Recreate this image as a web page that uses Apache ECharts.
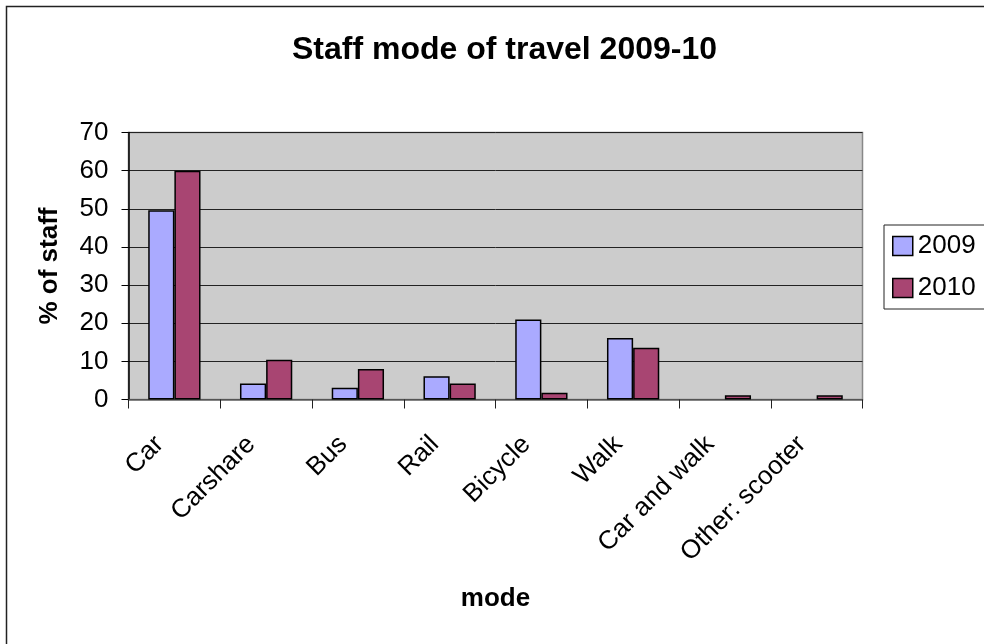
<!DOCTYPE html>
<html>
<head>
<meta charset="utf-8">
<script src="https://cdn.jsdelivr.net/npm/echarts@6/dist/echarts.min.js"></script>
<style>
html,body{margin:0;padding:0;background:#fff;}
#chart{width:984px;height:644px;}
</style>
</head>
<body>
<div id="chart"></div>
<script>
const categories = ['Car', 'Carshare', 'Bus', 'Rail', 'Bicycle', 'Walk', 'Car and walk', 'Other: scooter'];
const values2009 = [49.6, 4.2, 3.1, 6.1, 21.0, 16.1, null, null];
const values2010 = [60.0, 10.4, 8.0, 4.2, 1.8, 13.6, 1.1, 1.1];
const yTicks = { min: 0, max: 70, interval: 10 };

const FONT = '"Liberation Sans", Arial, Helvetica, sans-serif';
const chart = echarts.init(document.getElementById('chart'));
chart.setOption({
  animation: false,
  backgroundColor: '#ffffff',
  textStyle: { fontFamily: FONT },
  graphic: [{
    type: 'rect',
    shape: { x: 6.5, y: 6.5, width: 1100, height: 800 },
    style: { fill: 'none', stroke: '#222', lineWidth: 1.5 },
    silent: true
  }],
  title: {
    text: 'Staff mode of travel 2009-10',
    left: 287,
    top: 29,
    textStyle: { fontFamily: FONT, fontSize: 32, fontWeight: 'bold', color: '#000' }
  },
  legend: {
    orient: 'vertical',
    left: 884,
    top: 225,
    padding: [8, 20, 8, 8],
    itemGap: 16,
    itemWidth: 20,
    itemHeight: 19,
    icon: 'rect',
    borderColor: '#222',
    borderWidth: 1,
    itemStyle: { borderColor: '#000', borderWidth: 1.5 },
    textStyle: { fontFamily: FONT, fontSize: 26, color: '#000' },
    data: ['2009', '2010']
  },
  grid: {
    left: 128.5,
    right: 121.5,
    top: 132.5,
    bottom: 244.5,
    show: true,
    backgroundColor: '#cccccc',
    borderColor: '#888',
    borderWidth: 1.5
  },
  xAxis: {
    type: 'category',
    data: categories,
    name: 'mode',
    nameLocation: 'middle',
    nameGap: 186,
    nameTextStyle: { fontFamily: FONT, fontSize: 26, fontWeight: 'bold', color: '#000' },
    axisLine: { lineStyle: { color: '#666', width: 1.5 } },
    axisTick: { show: true, length: 9, lineStyle: { color: '#222', width: 1 } },
    axisLabel: { rotate: 45, margin: 26, padding: [0, 21, 0, 0], fontFamily: FONT, fontSize: 26, color: '#000', interval: 0 },
    splitLine: { show: false }
  },
  yAxis: {
    type: 'value',
    min: yTicks.min,
    max: yTicks.max,
    interval: yTicks.interval,
    name: '% of staff',
    nameLocation: 'middle',
    nameGap: 66,
    nameTextStyle: { fontFamily: FONT, fontSize: 26, fontWeight: 'bold', color: '#000' },
    axisLine: { show: true, lineStyle: { color: '#000', width: 1.5 } },
    axisTick: { show: true, length: 7, lineStyle: { color: '#000', width: 1 } },
    axisLabel: { margin: 20, fontFamily: FONT, fontSize: 26, color: '#000' },
    splitLine: { show: true, lineStyle: { color: '#222', width: 1 } }
  },
  series: [{
    name: '2009',
    type: 'bar',
    data: values2009,
    barGap: '0%',
    barCategoryGap: '43%',
    itemStyle: { color: '#aaaaff', borderColor: '#000', borderWidth: 1.5 }
  }, {
    name: '2010',
    type: 'bar',
    data: values2010,
    barGap: '0%',
    barCategoryGap: '43%',
    itemStyle: { color: '#a84572', borderColor: '#000', borderWidth: 1.5 }
  }]
});
</script>
</body>
</html>
